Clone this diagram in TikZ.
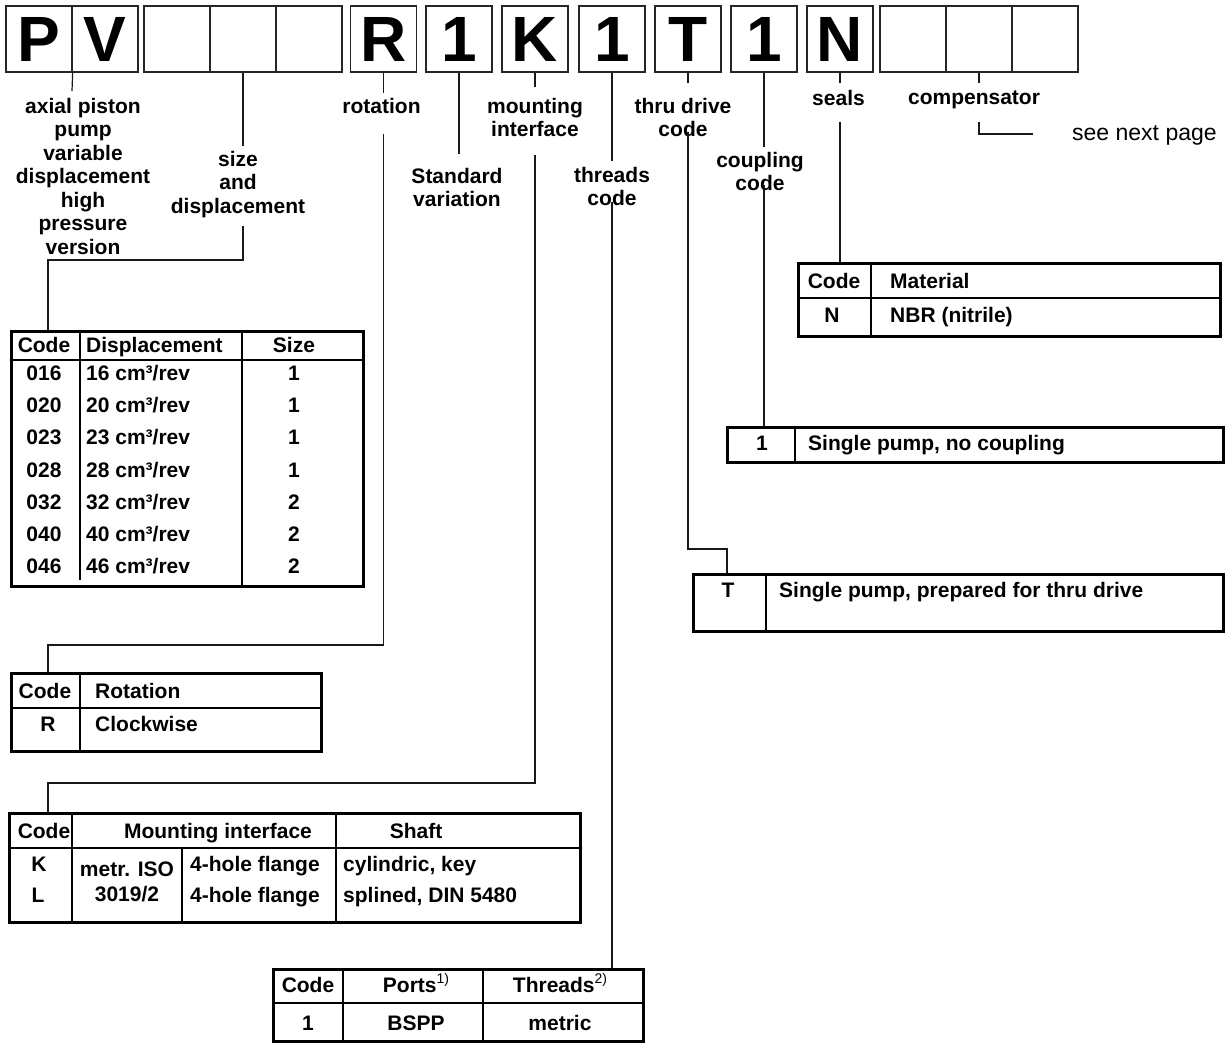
\documentclass[tikz,border=0pt]{standalone}
\usepackage{fontspec}
\setmainfont{Liberation Sans}
\newcommand\mysup[1]{\raisebox{0.42em}{\mdseries\fontsize{14}{14}\selectfont #1}}
\begin{document}
\begin{tikzpicture}[x=1pt,y=-1pt,
  topbox/.style={draw=black!85,line width=1.3pt,minimum width=66pt,minimum height=66pt,inner sep=0pt,font=\bfseries\fontsize{64}{64}\selectfont},
  lbl/.style={font=\bfseries\fontsize{21}{23.5}\selectfont,align=center,inner sep=0pt,anchor=north},
  tt/.style={font=\bfseries\fontsize{21}{23.5}\selectfont,inner sep=0pt,text height=15pt,text depth=0pt},
  ttw/.style={tt,anchor=west},
  tbl/.style={draw,line width=2.6pt,inner sep=0pt,anchor=north west},
  hrule/.style={line width=2.4pt},
  vrule/.style={line width=1.2pt},
  conn/.style={line width=1.2pt,draw=black!90},
]
\useasboundingbox (0,0) rectangle (1227,1043);

% ---------- top code boxes ----------
\node[topbox] (bP)   at (39,39)    {P};
\node[topbox] (bV)   at (105,39)   {V};
\node[topbox] (bS1)  at (177,39)   {};
\node[topbox] (bS2)  at (243,39)   {};
\node[topbox] (bS3)  at (309,39)   {};
\node[topbox] (bR)   at (383.5,39) {R};
\node[topbox] (bStd) at (459,39)   {1};
\node[topbox] (bK)   at (535,39)   {K};
\node[topbox] (bThr) at (612,39)   {1};
\node[topbox] (bT)   at (688,39)   {T};
\node[topbox] (bCpl) at (764,39)   {1};
\node[topbox] (bN)   at (840,39)   {N};
\node[topbox] (bC1)  at (913,39)   {};
\node[topbox] (bC2)  at (979,39)   {};
\node[topbox] (bC3)  at (1045,39)  {};

% ---------- labels ----------
\node[lbl] (lAx)   at (83,98)     {axial piston\\pump\\variable\\displacement\\high\\pressure\\version};
\node[lbl] (lSize) at (238,151)   {size\\and\\displacement};
\node[lbl] (lRot)  at (381.5,98)  {rotation};
\node[lbl] (lStd)  at (457,168)   {Standard\\variation};
\node[lbl] (lMnt)  at (535,98)    {mounting\\interface};
\node[lbl] (lThr)  at (612,167)   {threads\\code};
\node[lbl] (lThru) at (683,98)    {thru drive\\code};
\node[lbl] (lCpl)  at (760,152)   {coupling\\code};
\node[lbl] (lSeal) at (838.5,90.5) {seals};
\node[lbl] (lComp) at (974,90.5)  {compensator};
\node[font=\fontsize{23}{26}\selectfont,inner sep=0pt,anchor=base west] (lNext) at (1072,140.7) {see next page};

% ---------- tables ----------
% displacement
\node[tbl,minimum width=352pt,minimum height=255pt] (tDisp) at (10,330) {};
\draw[hrule] (10,360) -- (362,360);
\draw[vrule] (80,330) -- (80,580);
\draw[vrule] (242,330) -- (242,585);
\node[tt] (dh1) at (44,345) {Code};
\node[ttw] (dh2) at (86,345) {Displacement};
\node[tt] (dh3) at (294,345) {Size};
\foreach \c/\v/\s [count=\i from 0] in {016/16/1,020/20/1,023/23/1,028/28/1,032/32/2,040/40/2,046/46/2}{
  \node[tt] (dc\i) at (44,{373+32.2*\i}) {\c};
  \node[ttw] (dv\i) at (86,{373+32.2*\i}) {\v\ cm³/rev};
  \node[tt] (ds\i) at (294,{373+32.2*\i}) {\s};
}
% rotation
\node[tbl,minimum width=310pt,minimum height=78pt] (tRot) at (10,672) {};
\draw[hrule] (10,708) -- (320,708);
\draw[vrule] (80,672) -- (80,750);
\node[tt] (rh1) at (45,691) {Code};
\node[ttw] (rh2) at (95,691) {Rotation};
\node[tt] (rc1) at (48,724) {R};
\node[ttw] (rv1) at (95,724) {Clockwise};
% mounting interface
\node[tbl,minimum width=571pt,minimum height=109pt] (tMnt) at (8,812) {};
\draw[hrule] (8,848) -- (579,848);
\draw[vrule] (72,812) -- (72,921);
\draw[vrule] (182,848) -- (182,921);
\draw[vrule] (336,812) -- (336,921);
\node[tt] (mh1) at (44,831) {Code};
\node[tt] (mh2) at (218,831) {Mounting interface};
\node[tt] (mh3) at (416,831) {Shaft};
\node[tt] (mk) at (39,864) {K};
\node[tt] (ml) at (38,895) {L};
\node[tt] (mi1) at (127,869) {metr. ISO};
\node[tt] (mi2) at (127,894) {3019/2};
\node[ttw] (mf1) at (190,864) {4-hole flange};
\node[ttw] (mf2) at (190,895) {4-hole flange};
\node[ttw] (ms1) at (343,864) {cylindric, key};
\node[ttw] (ms2) at (343,895) {splined, DIN 5480};
% threads
\node[tbl,minimum width=370pt,minimum height=72pt] (tThr) at (272,968) {};
\draw[hrule] (272,1003) -- (642,1003);
\draw[vrule] (343,968) -- (343,1040);
\draw[vrule] (483,968) -- (483,1040);
\node[tt] (th1) at (308,985) {Code};
\node[tt] (th2) at (416,985) {Ports\mysup{1)}};
\node[tt] (th3) at (560,985) {Threads\mysup{2)}};
\node[tt] (tr1) at (308,1023) {1};
\node[tt] (tr2) at (416,1023) {BSPP};
\node[tt] (tr3) at (560,1023) {metric};
% seals
\node[tbl,minimum width=422pt,minimum height=73pt] (tSeal) at (797,262) {};
\draw[hrule] (797,298) -- (1219,298);
\draw[vrule] (871,262) -- (871,335);
\node[tt] (sh1) at (834,281) {Code};
\node[ttw] (sh2) at (890,281) {Material};
\node[tt] (sc1) at (832,315) {N};
\node[ttw] (sv1) at (890,315) {NBR (nitrile)};
% coupling
\node[tbl,minimum width=496pt,minimum height=35pt] (tCpl) at (726,426) {};
\draw[vrule] (795,426) -- (795,461);
\node[tt] (cc1) at (762,443) {1};
\node[ttw] (cv1) at (808,443) {Single pump, no coupling};
% thru drive
\node[tbl,minimum width=530pt,minimum height=57pt] (tThru) at (692,573) {};
\draw[vrule] (766,573) -- (766,630);
\node[tt] (uc1) at (728,590) {T};
\node[ttw] (uv1) at (779,590) {Single pump, prepared for thru drive};

% ---------- connectors ----------
\coordinate (cPV) at (72,91);
\draw[conn] (bP.south east) -- (cPV);

\coordinate (cSzA) at (243,146);
\coordinate (cSzB) at (243,226);
\coordinate (cSzC) at (243,260);
\coordinate (cSzD) at (48,260);
\draw[conn] (bS2.south) -- (cSzA);
\draw[conn] (cSzB) -- (cSzC) -- (cSzD) -- (cSzD |- tDisp.north);

\coordinate (cRoA) at (383.5,93);
\coordinate (cRoB) at (383.5,134);
\coordinate (cRoC) at (383.5,645);
\coordinate (cRoD) at (48,645);
\draw[conn] (bR.south) -- (cRoA);
\draw[conn] (cRoB) -- (cRoC) -- (cRoD) -- (cRoD |- tRot.north);

\coordinate (cStd) at (459,154);
\draw[conn] (bStd.south) -- (cStd);

\coordinate (cMnA) at (535,87);
\coordinate (cMnB) at (535,155);
\coordinate (cMnC) at (535,783);
\coordinate (cMnD) at (48,783);
\draw[conn] (bK.south) -- (cMnA);
\draw[conn] (cMnB) -- (cMnC) -- (cMnD) -- (cMnD |- tMnt.north);

\coordinate (cThA) at (612,161);
\coordinate (cThB) at (612,202);
\draw[conn] (bThr.south) -- (cThA);
\draw[conn] (cThB) -- (cThB |- tThr.north);

\coordinate (cTdA) at (688,83);
\coordinate (cTdB) at (688,132);
\coordinate (cTdC) at (688,549);
\coordinate (cTdD) at (727,549);
\draw[conn] (bT.south) -- (cTdA);
\draw[conn] (cTdB) -- (cTdC) -- (cTdD) -- (cTdD |- tThru.north);

\coordinate (cCpA) at (764,147);
\coordinate (cCpB) at (764,185);
\draw[conn] (bCpl.south) -- (cCpA);
\draw[conn] (cCpB) -- (cCpB |- tCpl.north);

\coordinate (cSeA) at (840,83);
\coordinate (cSeB) at (840,122);
\draw[conn] (bN.south) -- (cSeA);
\draw[conn] (cSeB) -- (cSeB |- tSeal.north);

\coordinate (cCoA) at (979,83);
\coordinate (cCoB) at (979,122);
\coordinate (cCoC) at (979,134);
\coordinate (cCoD) at (1033,134);
\draw[conn] (bC2.south) -- (cCoA);
\draw[conn] (cCoB) -- (cCoC) -- (cCoD);
\end{tikzpicture}
\end{document}
